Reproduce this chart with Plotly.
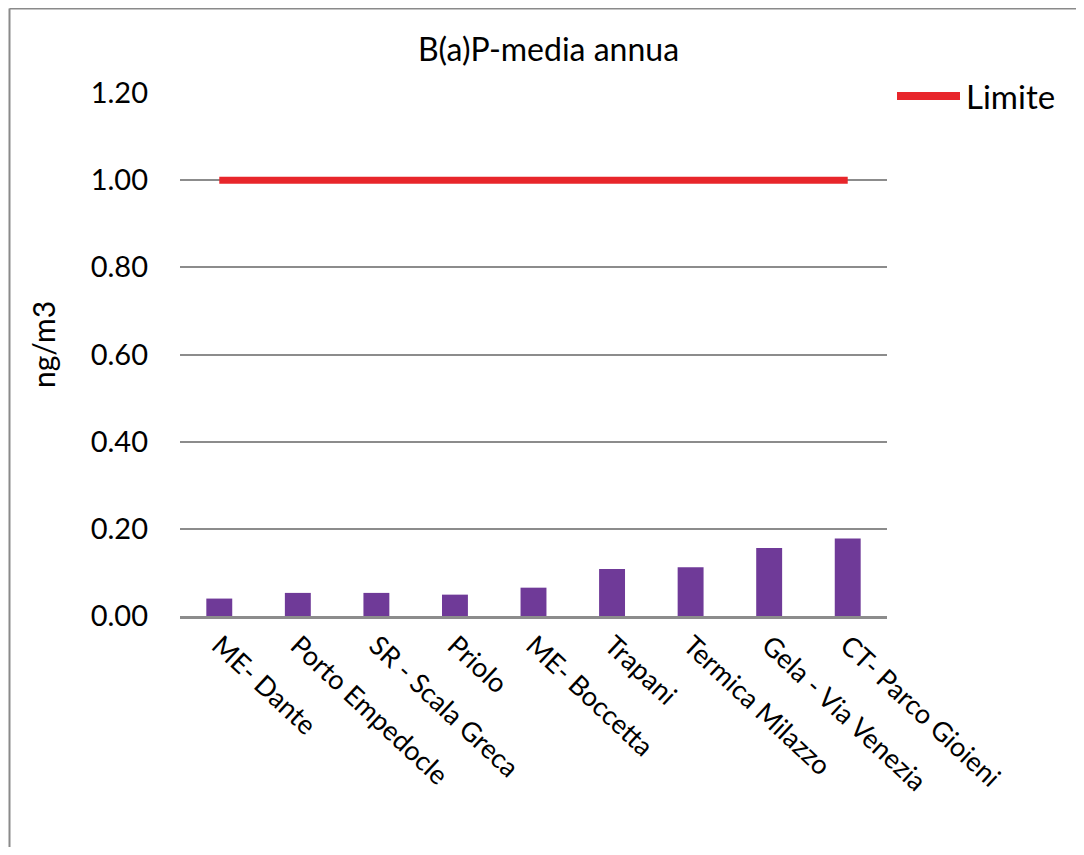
import plotly.graph_objects as go

stazioni = ["ME- Dante", "Porto Empedocle", "SR - Scala Greca", "Priolo", "ME- Boccetta",
            "Trapani", "Termica Milazzo", "Gela - Via Venezia", "CT- Parco Gioieni"]
bap_media = [0.040, 0.053, 0.053, 0.049, 0.065, 0.108, 0.112, 0.156, 0.178]
limite = [1.0] * 9
y_ticks = [0.0, 0.2, 0.4, 0.6, 0.8, 1.0, 1.2]

FONT = "Lato"
# la pagina html ha 8px di margine sul body: figura ridotta di 16px
W, H = 1068, 839
L, T, PW, PH = 172, 85, 707, 523

def px_x(fx):
    return (fx - L) / PW

def px_y(fy):
    return (T + PH - fy) / PH

fig = go.Figure()
fig.add_trace(go.Bar(x=stazioni, y=bap_media, marker=dict(color="#6f3a98", line=dict(width=0)),
                     showlegend=False, name="B(a)P"))
fig.add_trace(go.Scatter(x=stazioni, y=limite, mode="lines", name="Limite", showlegend=False,
                         line=dict(color="#e8262b", width=7)))

bordo = dict(color="#8a8a8a", width=2)
fig.update_layout(
    width=W, height=H,
    margin=dict(l=L, r=W - L - PW, t=T, b=H - T - PH, autoexpand=False),
    paper_bgcolor="white", plot_bgcolor="white",
    bargap=0.67,
    font=dict(family=FONT, color="black"),
    title=dict(text="B(a)P-media annua", x=px_x(540.5), xref="paper", xanchor="center",
               y=1 - 42 / H, yanchor="middle", font=dict(size=32, family=FONT)),
    showlegend=False,
    shapes=[
        # cornice del grafico (solo lati sinistro e superiore visibili)
        dict(type="line", xref="paper", yref="paper", x0=px_x(1.5), x1=px_x(1.5),
             y0=px_y(H + 5), y1=px_y(0.5), line=bordo, layer="below"),
        dict(type="line", xref="paper", yref="paper", x0=px_x(1.5), x1=px_x(W + 5),
             y0=px_y(0.5), y1=px_y(0.5), line=bordo, layer="below"),
        # simbolo legenda
        dict(type="line", xref="paper", yref="paper", x0=px_x(889), x1=px_x(952),
             y0=px_y(88), y1=px_y(88), line=dict(color="#e8262b", width=8)),
    ],
    annotations=[
        dict(text="Limite", xref="paper", yref="paper", x=px_x(956), y=px_y(88),
             xanchor="left", yanchor="middle", showarrow=False, font=dict(size=33)),
        dict(text="ng/m3", xref="paper", yref="paper", x=px_x(35), y=px_y(337),
             xanchor="center", yanchor="middle", textangle=-90, showarrow=False,
             font=dict(size=30)),
    ],
)
fig.update_yaxes(range=[0, 1.2], tickvals=y_ticks, tickformat=".2f", showgrid=True,
                 gridcolor="#8c8c8c", gridwidth=2, zeroline=False, showline=False,
                 tickfont=dict(size=29), ticklabelstandoff=31, automargin=False)
fig.update_xaxes(tickangle=43, tickfont=dict(size=27), showline=True, linecolor="#8c8c8c",
                 linewidth=3, ticks="", showgrid=False, automargin=False)

fig.write_html("out.html")
